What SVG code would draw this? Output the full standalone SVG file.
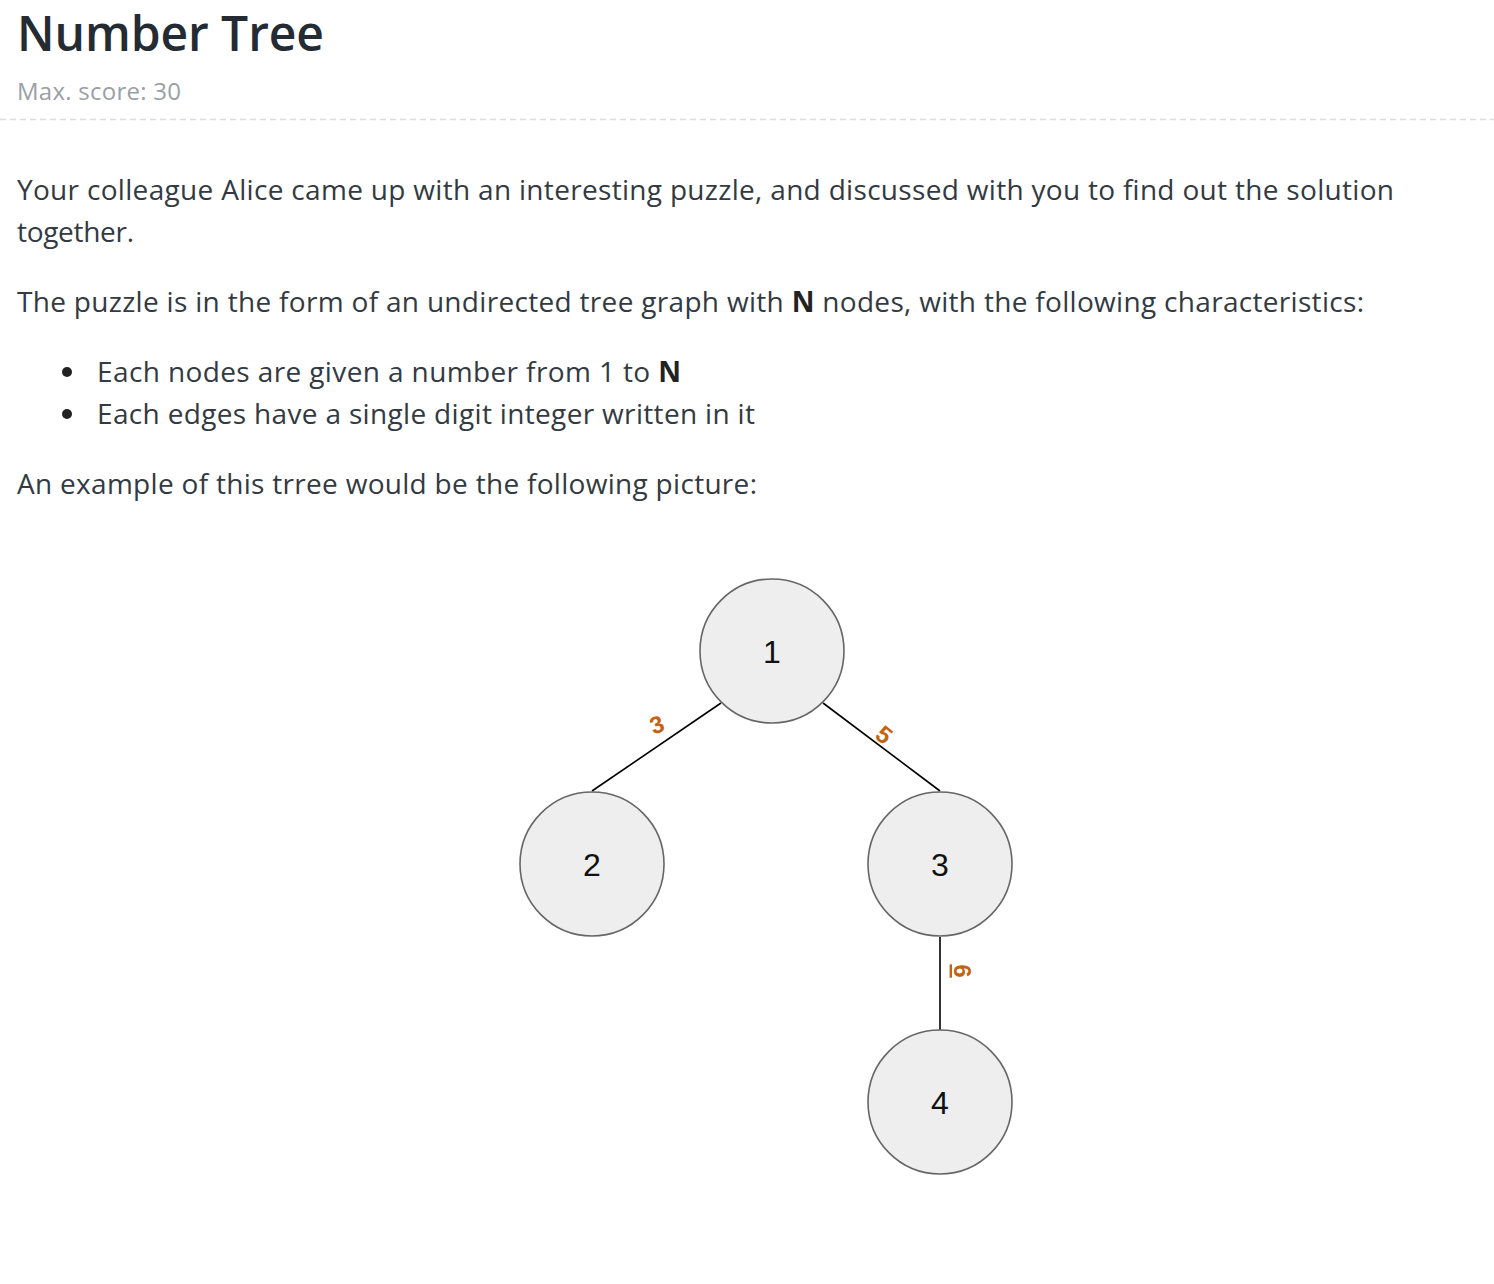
<svg xmlns="http://www.w3.org/2000/svg" width="1494" height="1284" viewBox="0 0 1494 1284">
<style>
.body{font-family:"Open Sans","Liberation Sans",sans-serif;font-size:28px;fill:#333a42}
.b{font-weight:700;fill:#222}
.node circle{fill:#eeeeee;stroke:#666666;stroke-width:1.6}
.node text{font-family:"Liberation Sans",Arial,sans-serif;font-size:32px;fill:#111;text-anchor:middle}
.edge line{stroke:#000;stroke-width:1.6}
.lbl{font-family:"Liberation Sans",Arial,sans-serif;font-size:24px;font-weight:700;fill:#c4620f;text-anchor:middle}
</style>
<rect width="1494" height="1284" fill="#ffffff"/>
<text x="17" y="51" textLength="307" lengthAdjust="spacing" style="font-family:'Open Sans','Liberation Sans',sans-serif;font-size:48px;font-weight:600;fill:#252b33">Number Tree</text>
<text x="17" y="100" textLength="164" lengthAdjust="spacing" style="font-family:'Open Sans','Liberation Sans',sans-serif;font-size:24px;fill:#9aa0a6">Max. score: 30</text>
<line x1="0" y1="119.5" x2="1494" y2="119.5" stroke="#dddddd" stroke-width="1.5" stroke-dasharray="6 4"/>
<text class="body" x="17" y="200" textLength="1377" lengthAdjust="spacing">Your colleague Alice came up with an interesting puzzle, and discussed with you to find out the solution</text>
<text class="body" x="17" y="242" textLength="117" lengthAdjust="spacing">together.</text>
<text class="body" x="17" y="312" textLength="1347" lengthAdjust="spacing">The puzzle is in the form of an undirected tree graph with <tspan class="b">N</tspan> nodes, with the following characteristics:</text>
<circle cx="67" cy="372" r="5" fill="#222"/>
<circle cx="67" cy="414" r="5" fill="#222"/>
<text class="body" x="97" y="382" textLength="584" lengthAdjust="spacing">Each nodes are given a number from 1 to <tspan class="b">N</tspan></text>
<text class="body" x="97" y="424" textLength="658" lengthAdjust="spacing">Each edges have a single digit integer written in it</text>
<text class="body" x="17" y="494" textLength="740" lengthAdjust="spacing">An example of this trree would be the following picture:</text>
<g id="edges" class="edge">
<line x1="592" y1="791" x2="721" y2="703"/>
<line x1="823" y1="703" x2="940" y2="791"/>
<line x1="940" y1="937" x2="940" y2="1030"/>
<text class="lbl" transform="translate(657,725) rotate(-20)" y="8">3</text>
<text class="lbl" transform="translate(884,735) rotate(38)" y="8">5</text>
<text class="lbl" transform="translate(960,971) rotate(90)" y="6" text-decoration="underline">6</text>
</g>
<g id="node1" class="node"><circle cx="772" cy="651" r="72"/><text x="772" y="663">1</text></g>
<g id="node2" class="node"><circle cx="592" cy="864" r="72"/><text x="592" y="876">2</text></g>
<g id="node3" class="node"><circle cx="940" cy="864" r="72"/><text x="940" y="876">3</text></g>
<g id="node4" class="node"><circle cx="940" cy="1102" r="72"/><text x="940" y="1114">4</text></g>
</svg>
